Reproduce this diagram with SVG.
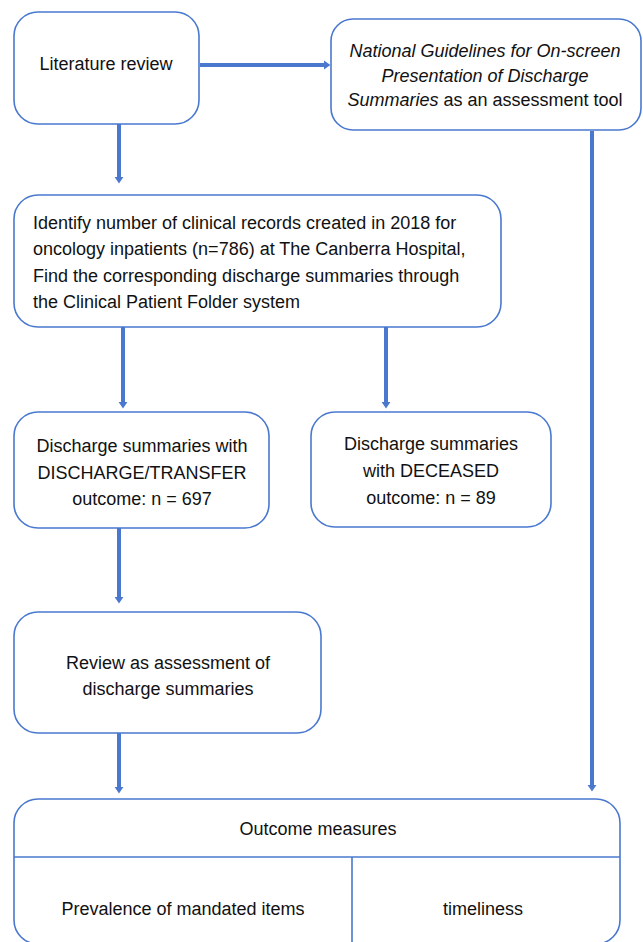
<svg xmlns="http://www.w3.org/2000/svg" width="643" height="942" viewBox="0 0 643 942">
<style>
.box{fill:#fff;stroke:#4a78cf;stroke-width:1.6}
.t{font-family:"Liberation Sans",Arial,sans-serif;font-size:18px;fill:#111}
.c{text-anchor:middle}
.conn{stroke:#4a78cf;stroke-width:4;fill:none}
.div{stroke:#4a78cf;stroke-width:1.6;fill:none}
</style>
<defs>
<marker id="ah" markerWidth="3" markerHeight="3" refX="0.5" refY="1.2" orient="auto" markerUnits="strokeWidth">
<path d="M0,0.1 L1.6,1.2 L0,2.3 z" fill="#4a78cf"/>
</marker>
</defs>
<g id="connectors">
<line class="conn" x1="200" y1="65" x2="326" y2="65" marker-end="url(#ah)"/>
<line class="conn" x1="119" y1="124" x2="119" y2="179" marker-end="url(#ah)"/>
<line class="conn" x1="592" y1="131" x2="592" y2="787" marker-end="url(#ah)"/>
<line class="conn" x1="123" y1="327" x2="123" y2="404" marker-end="url(#ah)"/>
<line class="conn" x1="386" y1="327" x2="386" y2="404" marker-end="url(#ah)"/>
<line class="conn" x1="119" y1="528" x2="119" y2="599" marker-end="url(#ah)"/>
<line class="conn" x1="119" y1="733" x2="119" y2="789" marker-end="url(#ah)"/>
</g>
<g id="literature">
<rect class="box" x="14" y="12" width="185" height="112" rx="24"/>
<text class="t c" x="106" y="70">Literature review</text>
</g>
<g id="guidelines">
<rect class="box" x="331" y="19" width="310" height="111" rx="22"/>
<text class="t c" x="485" y="57"><tspan font-style="italic">National Guidelines for On-screen</tspan></text>
<text class="t c" x="485" y="82"><tspan font-style="italic">Presentation of Discharge</tspan></text>
<text class="t c" x="485" y="106"><tspan font-style="italic">Summaries</tspan> as an assessment tool</text>
</g>
<g id="identify">
<rect class="box" x="14" y="195" width="487" height="132" rx="24"/>
<text class="t" x="33" y="229">Identify number of clinical records created in 2018 for</text>
<text class="t" x="33" y="255">oncology inpatients (n=786) at The Canberra Hospital,</text>
<text class="t" x="33" y="282">Find the corresponding discharge summaries through</text>
<text class="t" x="33" y="308">the Clinical Patient Folder system</text>
</g>
<g id="discharge">
<rect class="box" x="14" y="412" width="255" height="116" rx="24"/>
<text class="t c" x="142" y="452">Discharge summaries with</text>
<text class="t c" x="142" y="479">DISCHARGE/TRANSFER</text>
<text class="t c" x="142" y="505">outcome: n = 697</text>
</g>
<g id="deceased">
<rect class="box" x="311" y="412" width="240" height="115" rx="24"/>
<text class="t c" x="431" y="450">Discharge summaries</text>
<text class="t c" x="431" y="477">with DECEASED</text>
<text class="t c" x="431" y="504">outcome: n = 89</text>
</g>
<g id="review">
<rect class="box" x="14" y="612" width="307" height="121" rx="24"/>
<text class="t c" x="168" y="669">Review as assessment of</text>
<text class="t c" x="168" y="695">discharge summaries</text>
</g>
<g id="outcome">
<rect class="box" x="14" y="799" width="606" height="145" rx="24"/>
<line class="div" x1="14" y1="857" x2="620" y2="857"/>
<line class="div" x1="352" y1="857" x2="352" y2="944"/>
<text class="t c" x="318" y="835">Outcome measures</text>
<text class="t c" x="183" y="915">Prevalence of mandated items</text>
<text class="t c" x="483" y="915">timeliness</text>
</g>
</svg>
